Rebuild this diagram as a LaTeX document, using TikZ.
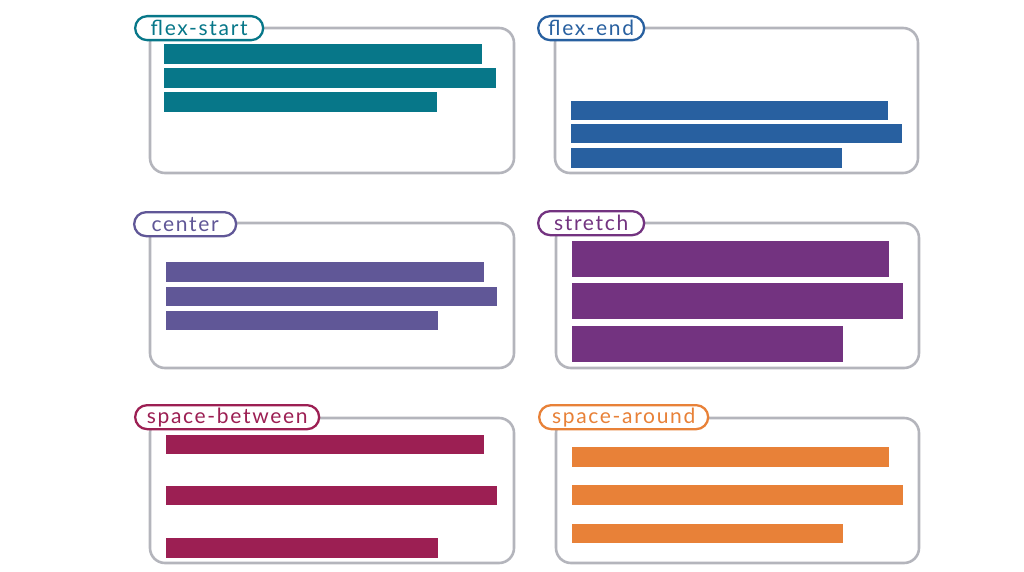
\documentclass[tikz,border=0pt]{standalone}
\usepackage{fontspec}
\setmainfont{Lato}
\newfontfamily\pillfont[LetterSpace=8]{Lato}
\definecolor{cteal}{HTML}{077789}
\definecolor{cblue}{HTML}{2860A0}
\definecolor{cviolet}{HTML}{605797}
\definecolor{cpurple}{HTML}{733380}
\definecolor{ccrimson}{HTML}{9C1F53}
\definecolor{corange}{HTML}{E88138}
\definecolor{cgray}{HTML}{B4B5BC}
\tikzset{
  panel/.style={draw=cgray, line width=2.6pt, rounded corners=15pt, fill=white},
  pill/.style={draw=#1, text=#1, fill=white, line width=2.3pt, rounded corners=12pt,
     inner sep=0pt, minimum height=24pt, anchor=north west, font=\pillfont\fontsize{21}{21}\selectfont},
  bar/.style={fill=#1}
}
\begin{document}
\begin{tikzpicture}[x=1pt,y=-1pt]
\useasboundingbox (0,0) rectangle (1024,572);
% panels
\draw[panel] (150,28) rectangle (514,173);
\draw[panel] (555,28) rectangle (918,173);
\draw[panel] (150,223) rectangle (514,368);
\draw[panel] (556,223) rectangle (919,368);
\draw[panel] (150,418) rectangle (514,563);
\draw[panel] (556,418) rectangle (919,563);
% flex-start
\fill[bar=cteal] (164,44) rectangle (482,64);
\fill[bar=cteal] (164,68) rectangle (496,88);
\fill[bar=cteal] (164,92) rectangle (437,112);
% flex-end
\fill[bar=cblue] (571,101) rectangle (888,120);
\fill[bar=cblue] (571,124) rectangle (902,143);
\fill[bar=cblue] (571,148) rectangle (842,168);
% center
\fill[bar=cviolet] (166,262) rectangle (484,282);
\fill[bar=cviolet] (166,287) rectangle (497,306);
\fill[bar=cviolet] (166,311) rectangle (438,330);
% stretch
\fill[bar=cpurple] (572,241) rectangle (889,277);
\fill[bar=cpurple] (572,283) rectangle (903,319);
\fill[bar=cpurple] (572,326) rectangle (843,362);
% space-between
\fill[bar=ccrimson] (166,435) rectangle (484,454);
\fill[bar=ccrimson] (166,486) rectangle (497,505);
\fill[bar=ccrimson] (166,538) rectangle (438,558);
% space-around
\fill[bar=corange] (572,447) rectangle (889,467);
\fill[bar=corange] (572,485) rectangle (903,505);
\fill[bar=corange] (572,524) rectangle (843,543);
% labels
\node[pill=cteal, minimum width=128pt] (l1) at (134,15) {flex-start};
\node[pill=cblue, minimum width=106pt] (l2) at (537,15) {flex-end};
\node[pill=cviolet, minimum width=102pt] (l3) at (133,211) {center};
\node[pill=cpurple, minimum width=106pt] (l4) at (537,210) {stretch};
\node[pill=ccrimson, minimum width=184pt] (l5) at (134,404) {space-between};
\node[pill=corange, minimum width=169pt] (l6) at (538,404) {space-around};
\end{tikzpicture}
\end{document}
